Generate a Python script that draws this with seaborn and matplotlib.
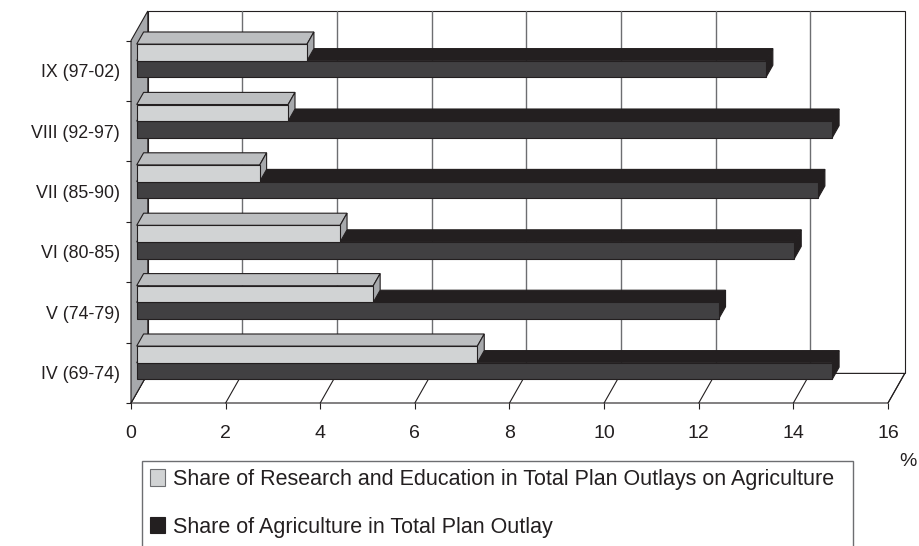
import matplotlib
matplotlib.use("Agg")
import matplotlib.pyplot as plt
import seaborn as sns
import pandas as pd
import numpy as np
from matplotlib.patches import Polygon, Rectangle, Patch
from matplotlib.transforms import Affine2D

# Five-year plans, top to bottom
plans = ["IX (97-02)", "VIII (92-97)", "VII (85-90)", "VI (80-85)", "V (74-79)", "IV (69-74)"]
# Share of research & education in plan outlays on agriculture (%)
research_share = [3.6, 3.2, 2.6, 4.3, 5.0, 7.2]
# Share of agriculture in total plan outlay (%)
agri_share = [13.3, 14.7, 14.4, 13.9, 12.3, 14.7]
series_names = [
    "Share of Research and Education in Total Plan Outlays on Agriculture",
    "Share of Agriculture in Total Plan Outlay",
]
x_ticks = [0, 2, 4, 6, 8, 10, 12, 14, 16]

df = pd.DataFrame({
    "plan": plans * 2,
    "share": research_share + agri_share,
    "series": [series_names[0]] * len(plans) + [series_names[1]] * len(plans),
})

sns.set_theme(style="white")
plt.rcParams["font.family"] = ["Liberation Sans", "DejaVu Sans"]

INK = "#231f20"
GRID = "#6d6e71"
WALL = "#a7a9ac"
LIGHT_FRONT, LIGHT_TOP, LIGHT_SIDE = "#d1d3d4", "#bcbec0", "#a7a9ac"
DARK_FRONT, DARK_TOP, DARK_SIDE = "#414042", "#231f20", "#231f20"

fig = plt.figure(figsize=(9.2, 5.46), dpi=100)
ax = fig.add_axes([131 / 920, 143 / 546, 757 / 920, 362.4 / 546])
ax.patch.set_alpha(0)

sns.barplot(
    data=df, x="share", y="plan", hue="series", order=plans, hue_order=series_names,
    orient="h", width=0.55, palette=[LIGHT_FRONT, DARK_FRONT], saturation=1,
    edgecolor=INK, linewidth=0.8, errorbar=None, legend=False, ax=ax,
)

XMIN, XMAX = x_ticks[0], x_ticks[-1]
YTOP, YBOT = -0.5, len(plans) - 0.5
ax.set_xlim(XMIN, XMAX)
ax.set_ylim(YBOT, YTOP)

# depth vector of the box (data units) and depth span of the bars
DX, DY = 0.355, 0.49
BAR_D0, BAR_D1 = 0.34, 0.75


def proj(x, y, d):
    return (x + d * DX, y - d * DY)


def poly(pts, fc, ec=INK, lw=0.8, z=0.5):
    p = Polygon(pts, closed=True, facecolor=fc, edgecolor=ec, linewidth=lw,
                zorder=z, clip_on=False, joinstyle="miter")
    ax.add_patch(p)
    return p


# back wall with gridlines
poly([proj(XMIN, YTOP, 1), proj(XMAX, YTOP, 1), proj(XMAX, YBOT, 1), proj(XMIN, YBOT, 1)],
     "white", z=0.2)
for v in x_ticks[1:-1]:
    ax.plot(*zip(proj(v, YTOP, 1), proj(v, YBOT, 1)), color=GRID, lw=1.0,
            zorder=0.3, clip_on=False)
# floor
poly([proj(XMIN, YBOT, 0), proj(XMAX, YBOT, 0), proj(XMAX, YBOT, 1), proj(XMIN, YBOT, 1)],
     "white", z=0.4)
for v in x_ticks:
    ax.plot(*zip(proj(v, YBOT, 0), proj(v, YBOT, 1)), color=INK, lw=0.8,
            zorder=0.45, clip_on=False)
# side wall
poly([proj(XMIN, YBOT, 0), proj(XMIN, YBOT, 1), proj(XMIN, YTOP, 1), proj(XMIN, YTOP, 0)],
     WALL, z=0.5)

# turn the flat bars into boxes
shift = Affine2D().translate(BAR_D0 * DX, -BAR_D0 * DY) + ax.transData
for bar in list(ax.patches):
    if not isinstance(bar, Rectangle):
        continue
    x0, y0, w, h = bar.get_x(), bar.get_y(), bar.get_width(), bar.get_height()
    dark = np.allclose(bar.get_facecolor()[:3], matplotlib.colors.to_rgb(DARK_FRONT), atol=0.02)
    top_c, side_c = (DARK_TOP, DARK_SIDE) if dark else (LIGHT_TOP, LIGHT_SIDE)
    z = 20 - y0
    bar.set_transform(shift)
    bar.set_zorder(z)
    bar.set_clip_on(False)
    poly([proj(x0, y0, BAR_D0), proj(x0 + w, y0, BAR_D0),
          proj(x0 + w, y0, BAR_D1), proj(x0, y0, BAR_D1)], top_c, z=z - 0.01)
    poly([proj(x0 + w, y0, BAR_D0), proj(x0 + w, y0 + h, BAR_D0),
          proj(x0 + w, y0 + h, BAR_D1), proj(x0 + w, y0, BAR_D1)], side_c, z=z - 0.01)

for s in ax.spines.values():
    s.set_visible(False)
ax.set_xlabel("")
ax.set_ylabel("")
ax.set_xticks(x_ticks)
ax.set_xticklabels([str(t) for t in x_ticks])
ax.set_yticks(range(len(plans)))
ax.set_yticklabels(plans)
ax.set_yticks(np.arange(YTOP, YBOT + 0.01, 1.0), minor=True)
ax.tick_params(axis="x", bottom=True, length=4, width=0.8, color=INK, pad=12,
               labelsize=14, labelcolor=INK)
ax.tick_params(axis="y", which="major", left=True, length=0, pad=8,
               labelsize=12.8, labelcolor=INK)
ax.tick_params(axis="y", which="minor", left=True, length=3.5, width=0.8, color=INK)

fig.text(908 / 920, 1 - 461 / 546, "%", ha="center", va="center", fontsize=14, color=INK)

# legend box, open at the bottom edge of the figure
fig.add_artist(Rectangle((142 / 920, -0.05), (853 - 142) / 920, 0.05 + 1 - 461 / 546,
                         transform=fig.transFigure, fill=False, edgecolor=GRID, linewidth=1.0))
handles = [Patch(facecolor=LIGHT_FRONT, edgecolor=GRID, linewidth=0.8),
           Patch(facecolor=INK, edgecolor=INK, linewidth=0.8)]
fig.legend(handles, series_names, loc="upper left", bbox_to_anchor=(150 / 920, 1 - 469 / 546),
           frameon=False, fontsize=15.5, labelcolor=INK, handlelength=0.7, handleheight=0.8,
           handletextpad=0.35, labelspacing=1.24, borderpad=0, borderaxespad=0)

fig.savefig("out.png", dpi=100)
